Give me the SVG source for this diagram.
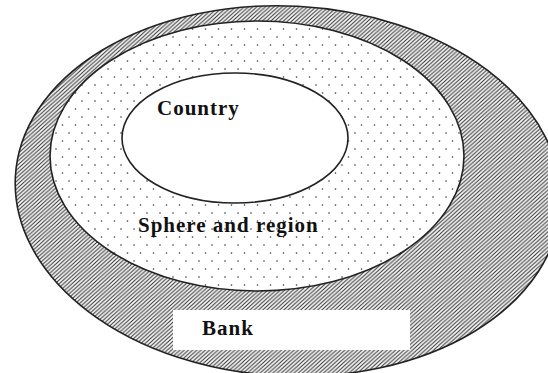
<svg xmlns="http://www.w3.org/2000/svg" width="548" height="373" viewBox="0 0 548 373">
<style>
.lbl{font-family:"Liberation Serif","Times New Roman",serif;font-weight:bold;font-size:21px;letter-spacing:1px;fill:#111}
.edge{stroke:#222;stroke-width:1.6}
</style>
<defs>
<pattern id="hatch" width="4" height="4" patternUnits="userSpaceOnUse">
<rect width="4" height="4" fill="#fff"/>
<path d="M-1,1 L1,-1 M0,4 L4,0 M3,5 L5,3" stroke="#333" stroke-width="1.1"/>
</pattern>
<pattern id="dots" width="13" height="16" patternUnits="userSpaceOnUse" x="3" y="4">
<rect width="13" height="16" fill="#fff"/>
<circle cx="1" cy="1" r="0.8" fill="#333"/>
<circle cx="7.5" cy="9" r="0.8" fill="#333"/>
</pattern>
</defs>
<rect width="548" height="373" fill="#fff"/>
<g id="bank">
<ellipse class="edge" cx="288" cy="191" rx="273" ry="185" transform="rotate(3 288 191)" fill="url(#hatch)"/>
<rect x="173" y="310" width="237" height="40" fill="#fff"/>
<text class="lbl" x="202" y="335">Bank</text>
</g>
<g id="sphere">
<ellipse class="edge" cx="257" cy="156" rx="207" ry="135" fill="url(#dots)"/>
<text class="lbl" x="138" y="232">Sphere and region</text>
</g>
<g id="country">
<ellipse class="edge" cx="235" cy="138" rx="113" ry="65" fill="#fff"/>
<text class="lbl" x="157" y="115">Country</text>
</g>
</svg>
